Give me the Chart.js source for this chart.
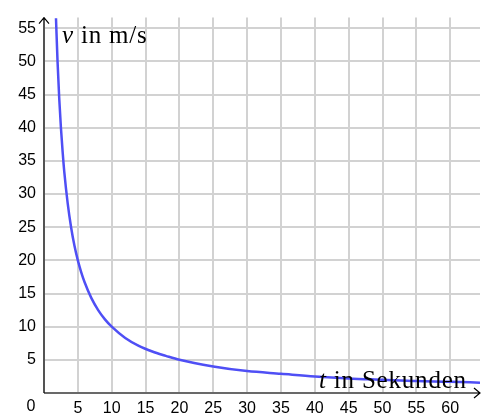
<!DOCTYPE html>
<html>
<head>
<meta charset="utf-8">
<script src="https://cdn.jsdelivr.net/npm/chart.js@4/dist/chart.umd.min.js"></script>
<style>
html,body{margin:0;padding:0;background:#fff;}
canvas{display:block;}
</style>
</head>
<body>
<canvas id="c" width="487" height="417"></canvas>
<script>
// Values
const tValues = [1.77, 2, 2.25, 2.5, 2.75, 3, 3.5, 4, 4.5, 5, 5.5, 6, 7, 8, 9, 10, 12, 14, 16, 18, 20, 25, 30, 35, 40, 45, 50, 55, 60, 64.4];
const vValues = [56.5, 50, 44.4, 40, 36.4, 33.3, 28.6, 25, 22.2, 20, 18.2, 16.7, 14.3, 12.5, 11.1, 10, 8.3, 7.1, 6.25, 5.6, 5, 4, 3.3, 2.9, 2.5, 2.2, 2, 1.8, 1.7, 1.55];
const xMax = 64.4;
const yMax = 56.6;
const tickStep = 5;
const yTitleParts = ['v', ' in m/s'];
const xTitleParts = ['t', ' in Sekunden'];
const originLabel = '0';

const points = tValues.map((t, i) => ({x: t, y: vValues[i]}));

const decor = {
  id: 'decor',
  beforeDatasetsDraw(chart) {
    const {ctx, chartArea: a} = chart;
    ctx.save();
    ctx.strokeStyle = '#000';
    ctx.lineWidth = 1.2;
    ctx.beginPath();
    ctx.moveTo(a.left, a.bottom);
    ctx.lineTo(a.left, a.top);
    ctx.moveTo(a.left, a.bottom);
    ctx.lineTo(a.right, a.bottom);
    ctx.moveTo(a.left - 5, a.top + 6);
    ctx.lineTo(a.left, a.top);
    ctx.lineTo(a.left + 5, a.top + 6);
    ctx.moveTo(a.right - 6, a.bottom - 5);
    ctx.lineTo(a.right, a.bottom);
    ctx.lineTo(a.right - 6, a.bottom + 5);
    ctx.stroke();
    ctx.restore();
  },
  afterDatasetsDraw(chart) {
    const {ctx} = chart;
    ctx.save();
    ctx.fillStyle = '#000';
    ctx.textBaseline = 'alphabetic';
    ctx.textAlign = 'left';
    ctx.letterSpacing = '0.8px';
    ctx.wordSpacing = '2px';
    const drawTitle = (parts, x, y) => {
      ctx.font = 'italic 25px "Liberation Serif"';
      ctx.fillText(parts[0], x, y);
      const w = ctx.measureText(parts[0]).width;
      ctx.font = '25px "Liberation Serif"';
      ctx.fillText(parts[1], x + w, y);
    };
    drawTitle(yTitleParts, 62, 43);
    drawTitle(xTitleParts, 319, 388);
    ctx.letterSpacing = '0px';
    ctx.wordSpacing = '0px';
    ctx.font = '16px "Liberation Sans"';
    ctx.textAlign = 'center';
    ctx.textBaseline = 'middle';
    ctx.fillText(originLabel, 31, 407);
    ctx.restore();
  }
};

new Chart(document.getElementById('c'), {
  type: 'line',
  data: {
    datasets: [{
      data: points,
      borderColor: '#4f4ff5',
      borderWidth: 2.5,
      pointRadius: 0,
      fill: false,
      cubicInterpolationMode: 'monotone',
      clip: 0
    }]
  },
  options: {
    responsive: false,
    animation: false,
    devicePixelRatio: 1,
    layout: {padding: {top: 9, right: 7, left: 0, bottom: 0}},
    plugins: {legend: {display: false}, tooltip: {enabled: false}},
    scales: {
      x: {
        type: 'linear',
        min: 0,
        max: xMax,
        border: {display: false},
        grid: {color: '#d2d2d2', lineWidth: 2, drawTicks: false},
        ticks: {
          stepSize: tickStep,
          includeBounds: false,
          autoSkip: false,
          maxRotation: 0,
          padding: 6,
          color: '#000',
          font: {family: 'Liberation Sans', size: 16},
          callback: v => v === 0 ? '' : v
        },
        afterFit: s => { s.height = 24; }
      },
      y: {
        min: 0,
        max: yMax,
        border: {display: false},
        grid: {color: '#d2d2d2', lineWidth: 2, drawTicks: false},
        ticks: {
          stepSize: tickStep,
          includeBounds: false,
          autoSkip: false,
          padding: 8,
          color: '#000',
          font: {family: 'Liberation Sans', size: 16},
          callback: v => v === 0 ? '' : v
        },
        afterFit: s => { s.width = 44; }
      }
    }
  },
  plugins: [decor]
});
</script>
</body>
</html>
